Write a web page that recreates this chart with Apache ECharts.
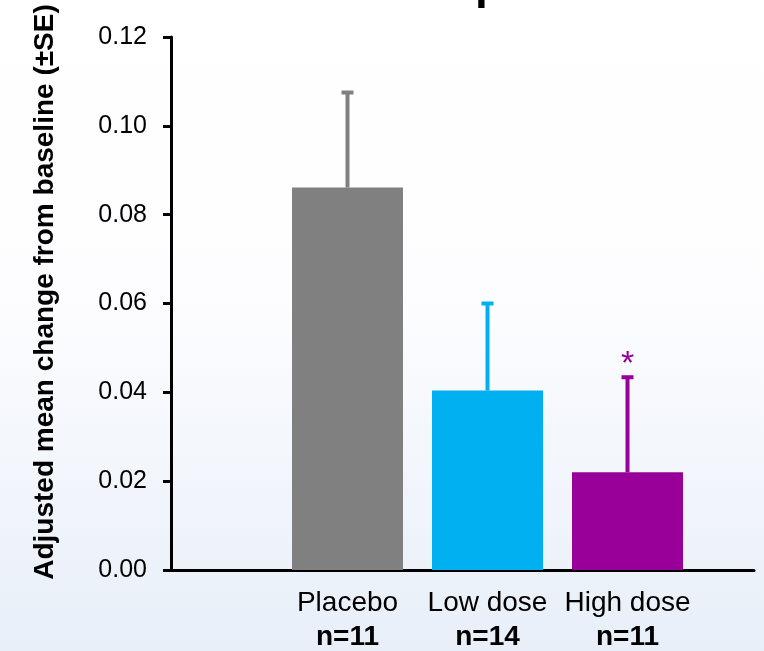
<!DOCTYPE html>
<html>
<head>
<meta charset="utf-8">
<script src="https://cdn.jsdelivr.net/npm/echarts@6/dist/echarts.min.js"></script>
<style>html,body{margin:0;padding:0;}#c{width:764px;height:651px;}</style>
</head>
<body>
<div id="c"></div>
<script>
const categories = ['Placebo', 'Low dose', 'High dose'];
const sampleSizes = ['n=11', 'n=14', 'n=11'];
const means = [0.0861, 0.0404, 0.0220];
const standardErrors = [0.0214, 0.0196, 0.0214];
const significance = ['', '', '*'];
const barColors = ['#808080', '#00b0f0', '#990099'];
const yMin = 0, yMax = 0.12, yInterval = 0.02;
const yAxisTitle = 'Adjusted mean change from baseline (±SE)';

const FONT = 'Liberation Sans, Arial, sans-serif';
const chart = echarts.init(document.getElementById('c'));

const barData = means.map((v, i) => ({ value: v, itemStyle: { color: barColors[i] } }));
const errData = means.map((v, i) => [i, v, v + standardErrors[i], significance[i]]);

chart.setOption({
  animation: false,
  backgroundColor: {
    type: 'linear', x: 0, y: 0, x2: 0, y2: 1,
    colorStops: [
      { offset: 0, color: '#ffffff' },
      { offset: 0.45, color: '#fdfdff' },
      { offset: 1, color: '#e8eff8' }
    ]
  },
  graphic: [{
    type: 'text', x: 475, y: 8,
    style: { text: 'p', font: 'bold 46px ' + FONT, fill: '#000', align: 'left', verticalAlign: 'bottom' }
  }],
  grid: [
    { left: 171, right: 10, top: 37, bottom: 81, outerBoundsMode: 'none' },
    { left: 277.5, right: 66.5, top: 37, bottom: 81, outerBoundsMode: 'none' }
  ],
  xAxis: [
    { gridIndex: 0, type: 'value', min: 0, max: 1,
      axisLine: { show: true, lineStyle: { color: '#000', width: 3 } },
      axisTick: { show: false }, axisLabel: { show: false }, splitLine: { show: false } },
    { gridIndex: 1, type: 'category', data: categories,
      axisLine: { show: false }, axisTick: { show: false }, splitLine: { show: false },
      axisLabel: {
        interval: 0, hideOverlap: false,
        margin: 16,
        formatter: (val, idx) => val + '\n{n|' + sampleSizes[idx] + '}',
        color: '#000', fontFamily: FONT, fontSize: 28, lineHeight: 34,
        rich: { n: { fontFamily: FONT, fontSize: 28, fontWeight: 'bold', lineHeight: 34, color: '#000' } }
      } }
  ],
  yAxis: [
    { gridIndex: 0, type: 'value', min: yMin, max: yMax, interval: yInterval,
      name: yAxisTitle, nameLocation: 'middle', nameGap: 112,
      nameTextStyle: { fontFamily: FONT, fontSize: 28, fontWeight: 'bold', color: '#000', padding: [0, 0, 0, 23] },
      axisLine: { show: true, lineStyle: { color: '#000', width: 3 } },
      axisTick: { show: true, length: 8, lineStyle: { color: '#000', width: 3 } },
      axisLabel: { margin: 24, color: '#000', fontFamily: FONT, fontSize: 25, formatter: v => v.toFixed(2) },
      splitLine: { show: false } },
    { gridIndex: 1, type: 'value', min: yMin, max: yMax, interval: yInterval, show: false }
  ],
  series: [
    { type: 'bar', xAxisIndex: 1, yAxisIndex: 1, data: barData, barWidth: 111, z: 2 },
    { type: 'custom', xAxisIndex: 1, yAxisIndex: 1, data: errData, z: 3,
      encode: { x: 0, y: [1, 2] },
      renderItem: (params, api) => {
        const i = api.value(0);
        const base = api.coord([i, api.value(1)]);
        const top = api.coord([i, api.value(2)]);
        const color = barColors[i];
        const sig = significance[i];
        const children = [
          { type: 'line', shape: { x1: top[0], y1: base[1], x2: top[0], y2: top[1] }, style: { stroke: color, lineWidth: 4 } },
          { type: 'line', shape: { x1: top[0] - 6, y1: top[1], x2: top[0] + 6, y2: top[1] }, style: { stroke: color, lineWidth: 4 } }
        ];
        if (sig) {
          children.push({ type: 'text', x: top[0], y: top[1] - 13,
            style: { text: sig, font: '34px ' + FONT, fill: color, align: 'center', verticalAlign: 'middle' } });
        }
        return { type: 'group', children };
      } }
  ]
});
</script>
</body>
</html>
